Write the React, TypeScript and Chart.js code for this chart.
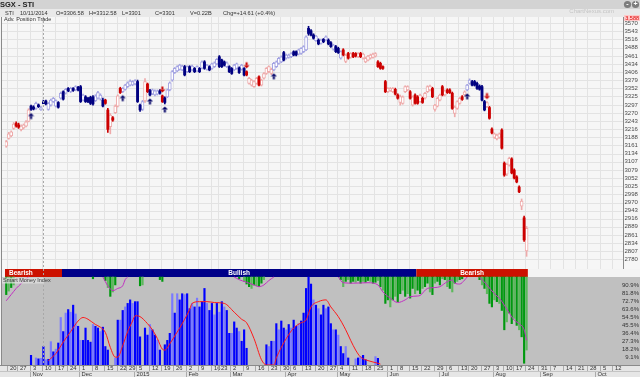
import { useEffect, useRef } from 'react';
import { Chart, registerables } from 'chart.js';

Chart.register(...registerables);

// ---------- price data (trading-day index 0 = 17 Oct 2014) ----------
const opens = [
  3159, 3185, 3193, 3218, 3235, 3230, 3214, 3220, 3226, 3242,
  3293, 3290, 3285, 3297, 3281, 3306.58, 3310, 3282, 3296, 3308,
  3293, 3305, 3319, 3341, 3336, 3352, 3341, 3352, 3347, 3356,
  3358, 3313, 3324, 3319, 3322, 3324, 3311, 3319, 3316, 3313,
  3313, 3280, 3224, 3254, 3271, 3293, 3352, 3341, 3349, 3358,
  3363, 3364, 3367, 3375, 3296, 3282, 3310, 3367, 3345, 3334,
  3330, 3333, 3344, 3327, 3320, 3324, 3347, 3380, 3405, 3411,
  3416, 3414, 3425, 3408, 3425, 3414, 3419, 3411, 3419, 3420,
  3441, 3416, 3425, 3419, 3425, 3434, 3458, 3447, 3441, 3425,
  3425, 3419, 3414, 3419, 3421, 3416, 3419, 3408, 3369, 3363,
  3358, 3369, 3391, 3363, 3386, 3402, 3408, 3402, 3414, 3425,
  3436, 3441, 3472, 3453, 3456, 3458, 3475, 3475, 3467, 3469,
  3475, 3481, 3553, 3545, 3531, 3512, 3514, 3503, 3516, 3514,
  3514, 3505, 3483, 3492, 3486, 3453, 3481, 3442, 3469, 3456,
  3469, 3469, 3458, 3469, 3453, 3441, 3447, 3453, 3456, 3460,
  3441, 3436, 3425, 3375, 3341, 3345, 3341, 3349, 3330, 3305,
  3302, 3341, 3347, 3341, 3296, 3330, 3324, 3308, 3319, 3319,
  3341, 3347, 3352, 3282, 3293, 3313, 3358, 3330, 3347, 3347,
  3336, 3268, 3285, 3302, 3324, 3330, 3347, 3369, 3375, 3375,
  3369, 3360, 3358, 3308, 3291, 3288, 3216, 3188, 3183, 3188,
  3213, 3102, 3065, 3095, 3116, 3079, 3056, 3022, 2958, 2919,
  2808,
];
const highs = [
  3178, 3205, 3210, 3238, 3240, 3236, 3230, 3233, 3244, 3284,
  3296, 3294, 3306, 3300, 3292, 3312.58, 3313, 3305, 3316, 3322,
  3314, 3308, 3340, 3344, 3352, 3355, 3356, 3355, 3361, 3359,
  3362, 3333, 3328, 3322, 3326, 3328, 3331, 3342, 3334, 3320,
  3316, 3285, 3268, 3258, 3297, 3331, 3356, 3355, 3366, 3374,
  3381, 3378, 3382, 3380, 3300, 3312, 3385, 3370, 3349, 3350,
  3347, 3347, 3348, 3330, 3324, 3350, 3374, 3412, 3422, 3428,
  3433, 3430, 3429, 3428, 3428, 3430, 3422, 3428, 3422, 3444,
  3445, 3433, 3428, 3437, 3441, 3452, 3462, 3450, 3444, 3441,
  3428, 3422, 3433, 3437, 3424, 3433, 3422, 3411, 3389, 3383,
  3378, 3389, 3394, 3383, 3405, 3422, 3428, 3420, 3439, 3444,
  3456, 3461, 3476, 3467, 3467, 3472, 3478, 3478, 3484, 3489,
  3495, 3528, 3560, 3549, 3535, 3530, 3518, 3517, 3519, 3528,
  3518, 3509, 3500, 3496, 3490, 3478, 3485, 3467, 3473, 3472,
  3473, 3472, 3472, 3473, 3470, 3456, 3463, 3467, 3470, 3472,
  3445, 3440, 3428, 3379, 3355, 3355, 3355, 3353, 3334, 3330,
  3327, 3361, 3361, 3345, 3327, 3334, 3328, 3333, 3323, 3339,
  3361, 3363, 3356, 3299, 3322, 3333, 3362, 3347, 3351, 3351,
  3340, 3293, 3311, 3322, 3328, 3344, 3366, 3384, 3379, 3379,
  3373, 3364, 3362, 3312, 3308, 3292, 3220, 3203, 3199, 3203,
  3217, 3106, 3101, 3122, 3120, 3083, 3060, 3026, 2982, 2925,
  2890,
];
const lows = [
  3155, 3182, 3190, 3215, 3222, 3218, 3210, 3216, 3223, 3240,
  3278, 3280, 3282, 3288, 3278, 3301, 3297, 3279, 3293, 3305,
  3290, 3286, 3316, 3313, 3333, 3341, 3338, 3342, 3344, 3344,
  3305, 3310, 3305, 3304, 3298, 3296, 3308, 3316, 3313, 3290,
  3299, 3205, 3200, 3242, 3268, 3290, 3335, 3338, 3346, 3355,
  3360, 3361, 3364, 3305, 3275, 3278, 3305, 3338, 3327, 3331,
  3327, 3330, 3333, 3305, 3300, 3321, 3344, 3376, 3402, 3408,
  3413, 3411, 3394, 3405, 3405, 3411, 3405, 3408, 3405, 3417,
  3416, 3413, 3411, 3416, 3422, 3431, 3422, 3422, 3427, 3422,
  3405, 3399, 3411, 3416, 3402, 3413, 3394, 3394, 3366, 3360,
  3355, 3366, 3360, 3360, 3383, 3399, 3405, 3398, 3411, 3422,
  3433, 3438, 3444, 3450, 3453, 3455, 3461, 3461, 3464, 3466,
  3472, 3478, 3530, 3528, 3517, 3509, 3498, 3500, 3505, 3511,
  3498, 3489, 3480, 3472, 3469, 3450, 3461, 3438, 3450, 3453,
  3455, 3457, 3455, 3455, 3450, 3438, 3444, 3450, 3453, 3457,
  3422, 3416, 3416, 3338, 3338, 3342, 3338, 3330, 3316, 3296,
  3299, 3338, 3344, 3316, 3293, 3299, 3299, 3305, 3302, 3316,
  3338, 3344, 3321, 3276, 3290, 3310, 3327, 3327, 3335, 3335,
  3282, 3257, 3282, 3299, 3312, 3327, 3344, 3366, 3360, 3360,
  3349, 3346, 3310, 3277, 3288, 3249, 3200, 3185, 3180, 3185,
  3149, 3058, 3060, 3092, 3066, 3049, 3036, 3003, 2946, 2840,
  2790,
];
const closes = [
  3174, 3200, 3207, 3233, 3226, 3222, 3226, 3230, 3240, 3280,
  3282, 3283, 3302, 3291, 3286.39, 3301, 3300, 3302, 3313, 3319,
  3311, 3289, 3336, 3316, 3349, 3344, 3352, 3345, 3358, 3347,
  3308, 3330, 3308, 3308, 3302, 3300, 3327, 3338, 3330, 3293,
  3302, 3215, 3263, 3246, 3293, 3327, 3338, 3352, 3363, 3371,
  3377, 3375, 3378, 3308, 3280, 3308, 3375, 3341, 3330, 3347,
  3344, 3344, 3336, 3308, 3305, 3347, 3371, 3408, 3419, 3425,
  3430, 3427, 3397, 3425, 3408, 3427, 3408, 3425, 3408, 3441,
  3419, 3430, 3414, 3434, 3438, 3449, 3425, 3425, 3430, 3438,
  3408, 3402, 3430, 3434, 3405, 3430, 3397, 3397, 3386, 3380,
  3375, 3386, 3363, 3380, 3402, 3419, 3425, 3416, 3436, 3441,
  3453, 3458, 3447, 3464, 3464, 3469, 3464, 3464, 3481, 3486,
  3492, 3525, 3536, 3531, 3520, 3527, 3501, 3514, 3508, 3525,
  3501, 3492, 3497, 3475, 3472, 3475, 3464, 3464, 3453, 3469,
  3458, 3460, 3469, 3458, 3467, 3453, 3460, 3464, 3467, 3469,
  3425, 3419, 3419, 3341, 3352, 3352, 3352, 3333, 3319, 3325,
  3324, 3358, 3358, 3319, 3324, 3302, 3302, 3330, 3305, 3336,
  3358, 3360, 3324, 3296, 3319, 3330, 3330, 3344, 3338, 3338,
  3285, 3290, 3308, 3319, 3315, 3341, 3363, 3380, 3363, 3363,
  3352, 3349, 3313, 3280, 3305, 3252, 3203, 3200, 3196, 3200,
  3152, 3062, 3098, 3118, 3069, 3052, 3039, 3006, 2975, 2845,
  2884,
];

// candle colour state (b = blue/bullish, r = red/bearish) from these indices on
const stateStart = [0, 10, 40, 47, 56, 58, 63, 64, 97, 108, 136, 186, 194];
const stateKind = ['r', 'b', 'r', 'b', 'r', 'b', 'r', 'b', 'r', 'b', 'r', 'b', 'r'];
const upArrows = [10, 47, 58, 64, 108, 186];
const downArrows = [63, 97, 194];

// trend band
const trendFrom = [-0.5, 22.5, 165.5];
const trendTo = [22.5, 165.5, 210.5];
const trendName = ['Bearish', 'Bullish', 'Bearish'];

// axis labels
const priceTicks = [3570, 3543, 3516, 3488, 3461, 3434, 3406, 3379, 3352, 3325, 3297, 3270, 3243, 3216, 3188,
  3161, 3134, 3107, 3079, 3052, 3025, 2998, 2970, 2943, 2916, 2889, 2861, 2834, 2807, 2780];
const pctTicks = [90.9, 81.8, 72.7, 63.6, 54.5, 45.5, 36.4, 27.3, 18.2, 9.1];
const weekIdx = [1, 5, 10, 15, 20, 25, 30, 35, 40, 45, 49, 53, 58, 63, 68, 73, 78, 83, 86, 91,
  96, 101, 106, 111, 115, 120, 125, 130, 134, 139, 144, 149, 154, 158, 163, 168, 173, 178, 183, 187,
  192, 197, 201, 205, 210, 215, 220, 225, 230, 235, 240, 245];
const weekLabels = ['20', '27', '3', '10', '17', '24', '1', '8', '15', '22', '29', '5', '12', '19', '26', '2', '9', '16', '23', '2',
  '9', '16', '23', '30', '6', '13', '20', '27', '4', '11', '18', '25', '1', '8', '15', '22', '29', '6', '13', '20',
  '27', '3', '10', '17', '24', '31', '7', '14', '21', '28', '5', '12'];
const monthIdx = [10, 30, 52, 73, 91, 113, 134, 154, 175, 197, 216, 238];
const monthLabels = ['Nov', 'Dec', '2015', 'Feb', 'Mar', 'Apr', 'May', 'Jun', 'Jul', 'Aug', 'Sep', 'Oct'];

// ---------- Smart Money Index panel ----------
const blueIdx = [10, 12, 13, 14, 15, 16, 17, 18, 19, 20, 21, 22, 23, 24, 25, 26, 27, 28, 29, 30,
  31, 32, 33, 34, 35, 36, 37, 38, 39, 40, 41, 44, 45, 46, 47, 48, 49, 50, 51, 52,
  53, 54, 56, 57, 58, 59, 60, 61, 62, 64, 65, 66, 67, 68, 69, 70, 71, 72, 73, 74,
  75, 76, 77, 78, 79, 80, 81, 82, 83, 84, 85, 86, 87, 88, 89, 90, 91, 92, 93, 94,
  95, 96, 97, 105, 106, 107, 108, 109, 110, 111, 112, 113, 114, 115, 116, 117, 118, 119, 120, 121,
  122, 123, 124, 125, 126, 127, 128, 129, 130, 131, 132, 133, 134, 135, 136, 137, 138, 141, 142, 143,
  144, 145, 149, 150];
const blueVal = [11, 8, 7, 7.5, 21, 6, 6.5, 26.5, 15, 18, 25, 54, 38, 59, 63, 60, 68, 58, 44, 28,
  28, 42, 28, 26, 46, 44, 42, 38, 43, 21, 17, 8, 51, 51, 62, 66, 70, 74, 70, 72,
  72, 32, 42, 34, 46, 40, 34, 28, 17, 23, 28, 36, 81, 59, 81, 74, 81, 80, 81, 64,
  70, 66, 76, 66, 72, 87, 70, 62, 70, 57, 70, 60, 72, 66, 62, 36, 36, 49, 42, 38,
  27, 40, 19, 23, 21, 27, 27, 47, 40, 50, 42, 40, 46, 42, 51, 44, 47, 50, 59, 87,
  100, 92, 74, 68, 64, 57, 68, 64, 66, 47, 40, 40, 34, 21, 13, 21, 8, 7, 8, 9.5,
  11, 6, 9.5, 7.6];
const blueLight = [12, 14, 16, 18, 20, 22, 24, 26, 28, 30, 35, 38, 44, 46, 48, 51, 58, 61, 67, 69, 72, 75, 77, 81,
  84, 86, 88, 91, 94, 106, 108, 110, 113, 115, 118, 124, 126, 129, 132, 134, 137, 141, 143, 149];

const greenIdx = [0, 1, 2, 3, 35, 40, 41, 42, 43, 44, 54, 55, 62, 63, 94, 96, 97, 98, 99, 100,
  101, 102, 103, 104, 135, 136, 137, 138, 139, 140, 141, 142, 143, 144, 145, 146, 147, 148, 149, 150,
  151, 152, 153, 154, 155, 156, 157, 158, 159, 160, 161, 162, 163, 164, 165, 166, 167, 168, 169, 170,
  171, 172, 173, 174, 175, 176, 177, 178, 179, 180, 181, 182, 183, 184, 191, 192, 193, 194, 195, 196,
  197, 198, 199, 200, 201, 202, 203, 204, 205, 206, 207, 208, 209, 210];
const greenVal = [80, 84, 88, 91, 98, 96, 88, 78, 83, 91, 90, 91, 97, 95, 98, 95, 92, 89, 87, 91,
  90, 89, 93, 97, 97, 89, 95, 97, 93, 95, 94, 96, 93, 95, 94, 96, 95, 93, 94, 96,
  89, 85, 70, 74, 66, 74, 78, 72, 81, 85, 78, 81, 76, 87, 81, 85, 81, 87, 89, 93,
  83, 80, 93, 95, 91, 98, 97, 89, 87, 83, 93, 95, 97, 98, 97, 91, 87, 81, 70, 66,
  74, 72, 70, 62, 40, 49, 59, 47, 53, 45, 40, 32, 2, 17];
const greenLight = [1, 3, 41, 43, 55, 96, 99, 101, 104, 136, 138, 141, 144, 147, 150, 152, 155, 157, 160, 162,
  165, 168, 171, 173, 176, 178, 180, 182, 192, 194, 197, 199, 202, 205, 207, 210];

const redLineIdx = [17, 20, 23, 26, 29, 31, 33, 36, 38, 40, 42, 44, 45, 47, 49, 51, 52, 54, 57, 59,
  61, 63, 64, 66, 68, 70, 72, 74, 75, 78, 81, 84, 88, 92, 95, 97, 100, 103, 105, 108,
  109, 111, 113, 116, 119, 121, 123, 126, 129, 131, 134, 137, 139, 141, 143, 146, 150, 151];
const redLineVal = [5, 13, 26, 38, 50, 54, 52, 46, 43, 37, 20, 9, 9, 22, 38, 50, 56, 55, 47, 40,
  30, 18, 17, 24, 33, 42, 52, 63, 70, 72, 72, 71, 70, 60, 52, 48, 30, 6, 0, 0,
  8, 20, 30, 42, 48, 51, 66, 72, 74, 66, 55, 40, 28, 17, 9, 5, 2, 1];
const magLineIdx = [0, 2, 4, 6, 8, 9, 20, 39, 41, 43, 45, 47, 48, 49, 70, 92, 94, 97, 100, 102,
  104, 106, 108, 120, 134, 136, 140, 146, 150, 152, 155, 158, 161, 163, 166, 167, 170, 173, 175, 178,
  180, 181, 183, 185, 186, 188, 191, 194, 197, 199, 201, 203, 205, 207, 209, 210];
const magLineVal = [73, 80, 87, 92.5, 98, 100, null, 100, 90, 84.5, 87, 90, 97, 100, null, 100, 97, 94, 91, 89,
  91, 96, 100, null, 100, 93.5, 93, 93.5, 91, 83, 76, 71, 74, 77.6, 78.4, 79, 87, 88, 89, 94.7,
  96.6, 93, 92, 96.6, 100, null, 100, 91, 81, 76, 68, 59, 51, 47, 40, 28];

const DARK: Record<string, string> = { b: '#000080', r: '#cc0000' };
const LIGHT: Record<string, string> = { b: '#a4a4e2', r: '#eeaaaa' };
const FONT = '"Liberation Sans", Arial, sans-serif';

function stateOf(i: number) {
  let s = stateKind[0];
  for (let k = 0; k < stateStart.length; k++) if (i >= stateStart[k]) s = stateKind[k];
  return s;
}

function makeArrow(up: boolean, color: string) {
  const c = document.createElement('canvas');
  c.width = 7;
  c.height = 24;
  const g = c.getContext('2d')!;
  g.fillStyle = color;
  g.beginPath();
  if (up) {
    g.moveTo(3.5, 14.5); g.lineTo(6.5, 17.5); g.lineTo(0.5, 17.5);
    g.closePath(); g.fill();
    g.fillRect(2.5, 17.5, 2, 3);
  } else {
    g.moveTo(3.5, 9.5); g.lineTo(6.5, 6.5); g.lineTo(0.5, 6.5);
    g.closePath(); g.fill();
    g.fillRect(2.5, 3.5, 2, 3);
  }
  return c;
}

function txt(ctx: CanvasRenderingContext2D, s: string, x: number, y: number, size: number, color: string,
  align: CanvasTextAlign = 'left', bold = false) {
  ctx.font = `${bold ? 'bold ' : ''}${size}px ${FONT}`;
  ctx.fillStyle = color;
  ctx.textAlign = align;
  ctx.textBaseline = 'middle';
  ctx.fillText(s, x, y);
}

function hline(ctx: CanvasRenderingContext2D, x1: number, x2: number, y: number) {
  ctx.beginPath(); ctx.moveTo(x1, y); ctx.lineTo(x2, y); ctx.stroke();
}
function vline(ctx: CanvasRenderingContext2D, x: number, y1: number, y2: number) {
  ctx.beginPath(); ctx.moveTo(x, y1); ctx.lineTo(x, y2); ctx.stroke();
}

const framePlugin = {
  id: 'frame',
  beforeDatasetsDraw(chart: any) {
    const ctx: CanvasRenderingContext2D = chart.ctx;
    const { x, y } = chart.scales;
    ctx.save();
    ctx.fillStyle = '#f4f4f4';
    ctx.fillRect(0, 0, 640, 377);
    ctx.fillStyle = '#d3d3d3';
    ctx.fillRect(0, 0, 640, 9);
    ctx.fillStyle = '#e9e9e9';
    ctx.fillRect(0, 9, 640, 8);
    ctx.fillStyle = '#f6f6f6';
    ctx.fillRect(1, 17, 639, 252);
    // grid
    ctx.strokeStyle = '#e3e3e3';
    ctx.lineWidth = 1;
    priceTicks.forEach((v) => {
      const py = Math.round(y.getPixelForValue(v)) + 0.5;
      hline(ctx, 2, 623, py);
    });
    weekIdx.forEach((i) => {
      const px = Math.round(x.getPixelForValue(i - 0.5)) + 0.5;
      vline(ctx, px, 17, 269);
    });
    // trend band
    for (let k = 0; k < trendName.length; k++) {
      const x1 = x.getPixelForValue(trendFrom[k]);
      const x2 = x.getPixelForValue(trendTo[k]);
      ctx.fillStyle = trendName[k] === 'Bullish' ? '#000088' : '#cc1100';
      ctx.fillRect(x1, 269, x2 - x1, 8);
    }
    // indicator panel
    ctx.fillStyle = '#c0c0c0';
    ctx.fillRect(2, 277, 638, 88);
    // bottom axis strip
    ctx.fillStyle = '#e6e6e6';
    ctx.fillRect(0, 365, 640, 12);
    ctx.restore();
  },
  afterDatasetsDraw(chart: any) {
    const ctx: CanvasRenderingContext2D = chart.ctx;
    const { x, y, y2 } = chart.scales;
    ctx.save();
    // borders
    ctx.strokeStyle = '#8a8a8a';
    ctx.lineWidth = 1;
    vline(ctx, 1.5, 17, 365);
    vline(ctx, 623.5, 17, 269);
    hline(ctx, 0, 640, 365.5);
    // crosshair
    ctx.strokeStyle = '#a8a8a8';
    ctx.setLineDash([2, 2]);
    const cx = Math.round(x.getPixelForValue(15)) + 0.5;
    vline(ctx, cx, 17, 365);
    ctx.setLineDash([]);

    // header
    txt(ctx, 'SGX - STI', 0, 4.8, 7.5, '#222', 'left', true);
    const hdr: [string, number][] = [['STI', 5], ['10/11/2014', 20], ['O=3306.58', 56], ['H=3312.58', 89],
      ['L=3301', 122], ['C=3301', 155], ['V=0.22B', 190], ['Chg=+14.61 (+0.4%)', 223]];
    hdr.forEach(([s, px]) => txt(ctx, s, px, 13.3, 5.6, '#333'));
    txt(ctx, 'ChartNexus.com', 614, 11.5, 6, '#c4c4c4', 'right');
    // icons
    [[627.5, 4.5, '-'], [635.5, 4.5, '+']].forEach(([ix, iy, s]: any) => {
      ctx.fillStyle = '#7d7d7d';
      ctx.beginPath(); ctx.arc(ix, iy, 3.6, 0, Math.PI * 2); ctx.fill();
      txt(ctx, s, ix, iy, 7, '#fff', 'center', true);
    });
    txt(ctx, 'Adv. Position Trade', 4, 19.8, 5.5, '#333');

    // price axis labels
    ctx.fillStyle = '#f6f6f6';
    ctx.fillRect(624, 17, 16, 252);
    priceTicks.forEach((v) => txt(ctx, String(v), 624.5, y.getPixelForValue(v), 6, '#4a4a4a'));
    ctx.fillStyle = '#ffcaca';
    ctx.fillRect(624, 15, 16, 6);
    txt(ctx, '3,588', 639, 18, 5.5, '#dd0000', 'right');

    // band labels
    for (let k = 0; k < trendName.length; k++) {
      const x1 = x.getPixelForValue(trendFrom[k]);
      const x2 = x.getPixelForValue(trendTo[k]);
      if (k === 0) txt(ctx, trendName[k], x1 + 4, 273.2, 6.5, '#fff', 'left', true);
      else txt(ctx, trendName[k], (x1 + x2) / 2, 273.2, 6.5, '#fff', 'center', true);
    }

    // indicator labels
    ctx.fillStyle = 'rgba(225,225,225,0.75)';
    ctx.fillRect(2, 277.5, 42, 6);
    txt(ctx, 'Smart Money Index', 3, 280.7, 5.5, '#333');
    pctTicks.forEach((v) => txt(ctx, v.toFixed(1) + '%', 639, y2.getPixelForValue(v), 6, '#333', 'right'));

    // date axis
    ctx.strokeStyle = '#ababab';
    weekIdx.forEach((i, k) => {
      const px = Math.round(x.getPixelForValue(i - 0.5)) + 0.5;
      vline(ctx, px, 366, 371);
      txt(ctx, weekLabels[k], px + 2.5, 368.6, 5.8, '#333');
    });
    ctx.strokeStyle = '#c4c4c4';
    hline(ctx, 0, 640, 371.5);
    ctx.strokeStyle = '#ababab';
    monthIdx.forEach((i, k) => {
      const px = Math.round(x.getPixelForValue(i - 0.5)) + 0.5;
      vline(ctx, px, 372, 377);
      txt(ctx, monthLabels[k], px + 2, 374.8, 5.8, '#333');
    });
    ctx.restore();
  },
};

export default function App() {
  const ref = useRef<HTMLCanvasElement>(null);

  useEffect(() => {
    document.body.style.margin = '0';
    const canvas = ref.current;
    if (!canvas) return;

    const wickData: any[] = [];
    const wickColors: string[] = [];
    const filledData: any[] = [];
    const filledColors: string[] = [];
    const hollowData: any[] = [];
    const hollowColors: string[] = [];
    for (let i = 0; i < opens.length; i++) {
      const s = stateOf(i);
      const down = closes[i] < opens[i];
      wickData.push({ x: i, y: [lows[i], highs[i]] });
      wickColors.push(down ? DARK[s] : LIGHT[s]);
      if (down) {
        filledData.push({ x: i, y: [closes[i], opens[i]] });
        filledColors.push(DARK[s]);
      } else {
        hollowData.push({ x: i, y: [opens[i], closes[i]] });
        hollowColors.push(LIGHT[s]);
      }
    }
    const blueBright: any[] = [];
    const blueSoft: any[] = [];
    blueIdx.forEach((i, k) => {
      (blueLight.includes(i) ? blueSoft : blueBright).push({ x: i, y: blueVal[k] });
    });
    const greenDark: any[] = [];
    const greenSoft: any[] = [];
    greenIdx.forEach((i, k) => {
      (greenLight.includes(i) ? greenSoft : greenDark).push({ x: i, y: [greenVal[k], 100] });
    });

    const upImg = makeArrow(true, '#000066');
    const downImg = makeArrow(false, '#cc0000');

    const chart = new Chart(canvas, {
      type: 'bar',
      data: {
        datasets: [
          { type: 'bar', data: wickData, backgroundColor: wickColors, barThickness: 1, grouped: false, yAxisID: 'y', order: 20 } as any,
          { type: 'bar', data: hollowData, backgroundColor: '#ffffff', borderColor: hollowColors, borderWidth: 1, borderSkipped: false, barThickness: 3, grouped: false, yAxisID: 'y', order: 19 } as any,
          { type: 'bar', data: filledData, backgroundColor: filledColors, barThickness: 2.2, grouped: false, yAxisID: 'y', order: 18 } as any,
          { type: 'bar', data: blueBright, backgroundColor: '#0000ff', barThickness: 1.5, grouped: false, yAxisID: 'y2', order: 12 } as any,
          { type: 'bar', data: blueSoft, backgroundColor: '#7a7aff', barThickness: 1.5, grouped: false, yAxisID: 'y2', order: 12 } as any,
          { type: 'bar', data: greenDark, backgroundColor: '#00990f', barThickness: 1.5, grouped: false, yAxisID: 'y2', order: 12 } as any,
          { type: 'bar', data: greenSoft, backgroundColor: '#5cb85c', barThickness: 1.5, grouped: false, yAxisID: 'y2', order: 12 } as any,
          {
            type: 'line', data: redLineIdx.map((i, k) => ({ x: i, y: redLineVal[k] })), borderColor: '#ff1a1a',
            borderWidth: 1, pointRadius: 0, cubicInterpolationMode: 'monotone', yAxisID: 'y2', order: 5,
          } as any,
          {
            type: 'line', data: magLineIdx.map((i, k) => ({ x: i, y: magLineVal[k] })), borderColor: '#c030c0',
            borderWidth: 1, pointRadius: 0, cubicInterpolationMode: 'monotone', spanGaps: false, yAxisID: 'y2', order: 5,
          } as any,
          {
            type: 'line', data: upArrows.map((i) => ({ x: i, y: lows[i] })), showLine: false,
            pointStyle: upImg, pointRadius: 4, yAxisID: 'y', order: 1,
          } as any,
          {
            type: 'line', data: downArrows.map((i) => ({ x: i, y: highs[i] })), showLine: false,
            pointStyle: downImg, pointRadius: 4, yAxisID: 'y', order: 1,
          } as any,
        ],
      },
      options: {
        responsive: false,
        maintainAspectRatio: false,
        animation: false,
        devicePixelRatio: 1,
        events: [],
        layout: { padding: { left: 2, right: 18, top: 20, bottom: 12 } },
        plugins: { legend: { display: false }, tooltip: { enabled: false } },
        scales: {
          x: { type: 'linear', min: -0.5, max: 248.5, offset: false, display: false },
          y: { type: 'linear', min: 2426.3, max: 3581.05, display: false },
          y2: { type: 'linear', min: 0, max: 392.05, display: false },
        },
      } as any,
      plugins: [framePlugin],
    });
    return () => chart.destroy();
  }, []);

  return <canvas ref={ref} width={640} height={377} style={{ display: 'block', width: 640, height: 377 }} />;
}
